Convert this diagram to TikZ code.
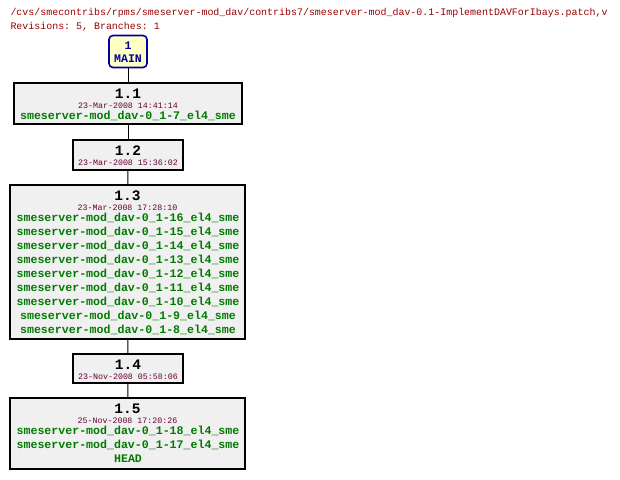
\documentclass[tikz,border=0pt]{standalone}
\usepackage{fontspec}
\setmonofont{Liberation Mono}
\usepackage{tikz}
\usetikzlibrary{positioning}
\definecolor{titlec}{HTML}{990000}
\definecolor{datec}{HTML}{660033}
\definecolor{tagc}{HTML}{007A00}
\definecolor{revfill}{HTML}{F0F0F0}
\definecolor{mainfill}{HTML}{FFFFC8}
\definecolor{mainc}{HTML}{000099}
% box of one revision: name, left, top, right, bottom, number, date
\newcommand{\revision}[7]{%
  \node[revbox, minimum width={(#4-#2)*1pt}, minimum height={(#5-#3)*1pt}]
    (#1) at ({(#2+#4)/2},{(#3+#5)/2}) {};
  \node[revnum] (#1num) at ({(#2+#4)/2},{#3+15}) {#6};
  \node[revdate] (#1date) at ({(#2+#4)/2},{#3+25}) {#7};
}

\begin{document}
\begin{tikzpicture}[x=1pt, y=-1pt, line width=1pt,
    revbox/.style={rectangle, draw=black, fill=revfill, line width=1.2pt, inner sep=0pt},
    revnum/.style={anchor=base, inner sep=0pt,
      font=\fontsize{14.5}{14.5}\selectfont\ttfamily\bfseries},
    revdate/.style={anchor=base, inner sep=0pt, text=datec,
      font=\fontsize{8.3}{8.3}\selectfont\ttfamily},
    revtag/.style={anchor=base, inner sep=0pt, text=tagc,
      font=\fontsize{11.6}{11.6}\selectfont\ttfamily\bfseries},
    titletext/.style={anchor=base west, inner sep=0pt, text=titlec,
      font=\fontsize{9.95}{9.95}\selectfont\ttfamily}]
  \useasboundingbox (0,0) rectangle (620,479);

  \node[titletext] (path) at (10,16)
    {/cvs/smecontribs/rpms/smeserver-mod\_dav/contribs7/smeserver-mod\_dav-0.1-ImplementDAVForIbays.patch,v};
  \node[titletext] (counts) at (10,29) {Revisions: 5, Branches: 1};

  % branch
  \node[rectangle, rounded corners=4pt, draw=mainc, fill=mainfill, line width=1.6pt,
        minimum width=38pt, minimum height=32pt] (main) at (128,51.5) {};
  \node[revtag, text=mainc] (mainnum) at (128,49) {1};
  \node[revtag, text=mainc] (mainname) at (128,62) {MAIN};

  % revisions
  \revision{r11}{14}{83}{242}{124}{1.1}{23-Mar-2008 14:41:14}
  \node[revtag] (r11tag) at (128,119) {smeserver-mod\_dav-0\_1-7\_el4\_sme};

  \revision{r12}{73}{140}{183}{170}{1.2}{23-Mar-2008 15:36:02}

  \revision{r13}{10}{185}{245}{339}{1.3}{23-Mar-2008 17:28:10}
  \foreach \t [count=\i from 0] in {16,15,14,13,12,11,10,9,8}
    \node[revtag] (r13tag\i) at (128,{221+14*\i}) {smeserver-mod\_dav-0\_1-\t\_el4\_sme};

  \revision{r14}{73}{354}{183}{383}{1.4}{23-Nov-2008 05:58:06}

  \revision{r15}{10}{398}{245}{469}{1.5}{25-Nov-2008 17:20:26}
  \node[revtag] (r15tag0) at (128,434) {smeserver-mod\_dav-0\_1-18\_el4\_sme};
  \node[revtag] (r15tag1) at (128,448) {smeserver-mod\_dav-0\_1-17\_el4\_sme};
  \node[revtag] (r15head) at (128,462) {HEAD};

  % connectors
  \draw (main) -- (r11);
  \draw (r11) -- (r12);
  \draw (r12) -- (r13);
  \draw (r13) -- (r14);
  \draw (r14) -- (r15);
\end{tikzpicture}
\end{document}
